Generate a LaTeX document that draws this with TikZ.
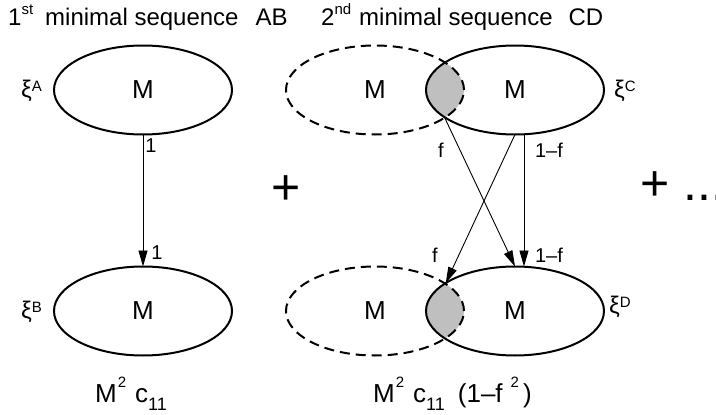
\documentclass[tikz,border=0pt]{standalone}
\usepackage{fontspec}
\setmainfont{Liberation Sans}
\usetikzlibrary{shapes.geometric,arrows.meta,backgrounds}
\newcommand{\supx}[2][11pt]{\raisebox{#1}{\fontsize{15}{15}\selectfont #2}}
\newcommand{\subx}[1]{\raisebox{-8pt}{\fontsize{18}{18}\selectfont #1}}
\newcommand{\sqx}{\raisebox{15pt}{\fontsize{15}{15}\selectfont 2}}
\begin{document}
\begin{tikzpicture}[x=1pt,y=-1pt,
  every node/.style={font=\fontsize{24}{28}\selectfont},
  ell/.style={ellipse, draw, line width=2pt, minimum width=178pt, minimum height=89pt, inner sep=0pt, outer sep=0pt, font=\fontsize{26}{30}\selectfont},
  ghost/.style={ell, dash pattern=on 10pt off 6pt},
  arr/.style={-{Triangle[length=16pt,width=9pt]}, line width=0.9pt},
  lbl/.style={font=\fontsize{20}{24}\selectfont, inner sep=0pt},
  txt/.style={anchor=base west, inner sep=0pt},
  bottom/.style={txt, font=\fontsize{26}{30}\selectfont},
  big/.style={txt, font=\fontsize{50}{56}\selectfont},
  lens/.style={fill=gray!50}]
\useasboundingbox (0,0) rectangle (716,415);

% titles
\node[txt] (t1) at (8,26) {1\supx{st}\hspace{12pt}minimal sequence\hspace{17pt}AB};
\node[txt] (t2) at (321,26) {2\supx{nd}\hspace{8pt}minimal sequence\hspace{16pt}CD};

% ellipses
\node[ell] (A) at (143,90) {M};
\node[ell] (B) at (143,311) {M};
\node[ghost] (Cg) at (375,90) {M};
\node[ell] (C) at (515,90) {M};
\node[ghost] (Dg) at (375,311) {M};
\node[ell] (D) at (515,311) {M};

% shaded overlaps
\begin{scope}[on background layer]
  \begin{scope}
    \clip (C.center) ellipse [x radius=89pt, y radius=44.5pt];
    \fill[lens] (Cg.center) ellipse [x radius=89pt, y radius=44.5pt];
  \end{scope}
  \begin{scope}
    \clip (D.center) ellipse [x radius=89pt, y radius=44.5pt];
    \fill[lens] (Dg.center) ellipse [x radius=89pt, y radius=44.5pt];
  \end{scope}
\end{scope}

% xi labels
\node[txt] (xa) at (21,97) {ξ\supx[6pt]{A}};
\node[txt] (xb) at (21,318) {ξ\supx[6pt]{B}};
\node[txt] (xc) at (614,97) {ξ\supx[6pt]{C}};
\node[txt] (xd) at (609,313) {ξ\supx[6pt]{D}};

% arrows
\draw[arr] (A.south) -- (B.north);
\draw[arr] (C.201.8) -- (D.north);
\draw[arr] (C.south) -- (D.158.2);
\draw[arr] ([xshift=9pt]C.south) -- ([xshift=9pt]D.north);

% arrow labels
\node[lbl] (l1) at (151,146) {1};
\node[lbl] (l2) at (157,253) {1};
\node[lbl] (l3) at (441,150) {f};
\node[lbl] (l4) at (549,150) {1–f};
\node[lbl] (l5) at (435,255) {f};
\node[lbl] (l6) at (549,255) {1–f};

% plus signs
\node[big] (p1) at (271,204) {+};
\node[big] (p2) at (640,200) {+ ...};

% bottom formulas
\node[bottom] (e1) at (95,402) {M\kern1pt\sqx\hspace{9pt}c\subx{11}};
\node[bottom] (e2) at (373,402) {M\kern1pt\sqx\hspace{9pt}c\subx{11}\hspace{13pt}(1–f\hspace{8pt}\sqx\hspace{4pt})};
\end{tikzpicture}
\end{document}
